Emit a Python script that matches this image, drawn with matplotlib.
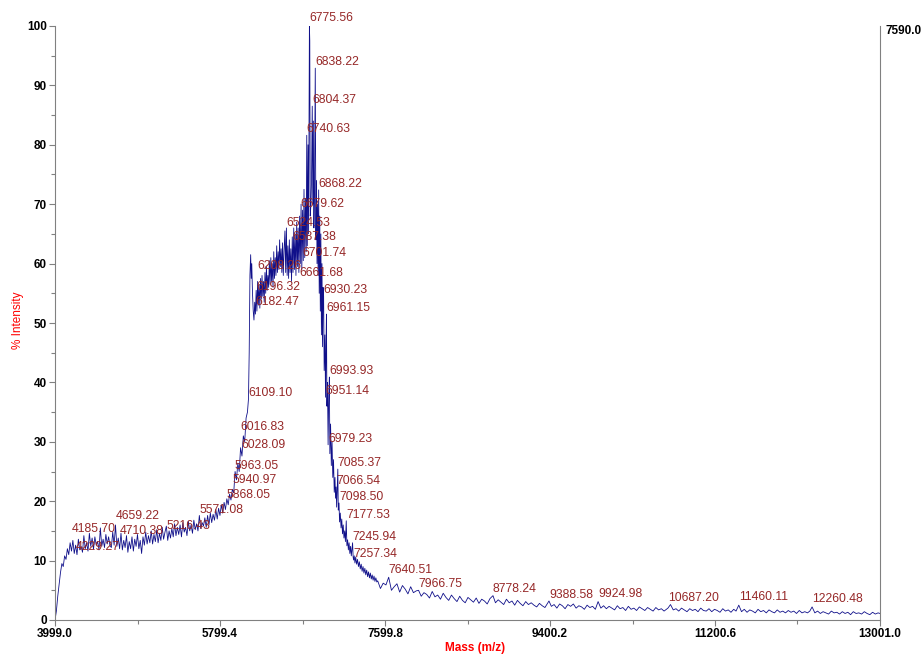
import matplotlib
matplotlib.use("Agg")
import matplotlib.pyplot as plt
import numpy as np

plt.rcParams['font.family'] = ['Liberation Sans', 'DejaVu Sans']

# ---- spectrum data (mass, % intensity) ----
mass_rise = [3999, 4014, 4029, 4044, 4059, 4074, 4089, 4104, 4119, 4134, 4149, 4164, 4179, 4194,
             4209, 4224, 4239, 4254, 4269, 4284, 4299, 4314, 4329, 4344, 4359, 4374, 4389, 4404,
             4419, 4434, 4449, 4464, 4479, 4494, 4509, 4524, 4539, 4554, 4569, 4584, 4599]
int_rise = [0.0, 1.5, 4.0, 6.0, 8.0, 9.5, 9.0, 10.8, 10.2, 12.0, 11.0, 13.0, 11.6, 13.4,
            11.2, 12.6, 11.0, 13.6, 11.8, 12.4, 11.4, 14.2, 12.0, 13.0, 11.6, 14.6, 12.4, 13.8,
            11.9, 14.0, 12.6, 13.2, 11.8, 15.5, 12.4, 13.6, 12.2, 14.4, 12.8, 14.0, 12.5]

mass_plateau = [4614, 4629, 4644, 4659, 4674, 4689, 4704, 4719, 4734, 4749, 4764, 4779, 4794, 4809,
                4824, 4839, 4854, 4869, 4884, 4899, 4914, 4929, 4944, 4959, 4974, 4989, 5004, 5019,
                5034, 5049, 5064, 5079, 5094, 5109, 5124, 5139, 5154, 5169, 5184, 5199, 5214, 5229,
                5244, 5259, 5274, 5289, 5304, 5319, 5334, 5349, 5364, 5379, 5394, 5409, 5424, 5439,
                5454, 5469, 5484, 5499, 5514, 5529, 5544, 5559, 5574, 5589, 5604]
int_plateau = [12.2, 14.8, 12.6, 16.0, 12.4, 13.8, 12.0, 14.6, 11.8, 13.4, 12.2, 14.2, 11.4, 13.2,
               12.0, 14.0, 11.6, 13.6, 12.4, 14.4, 12.0, 13.4, 11.2, 14.0, 12.6, 14.8, 12.8, 14.2,
               13.0, 15.0, 12.8, 14.4, 13.2, 15.2, 13.0, 14.6, 13.4, 15.6, 13.6, 14.8, 15.8, 13.4,
               15.0, 13.8, 15.4, 14.0, 16.2, 14.2, 15.6, 14.4, 16.0, 14.0, 16.4, 14.8, 15.6, 14.2,
               16.6, 15.0, 16.0, 14.6, 16.8, 15.2, 16.2, 15.0, 17.6, 15.4, 16.4]

mass_climb = [5619, 5634, 5649, 5664, 5679, 5694, 5709, 5724, 5739, 5754, 5769, 5784, 5799, 5814,
              5829, 5844, 5859, 5874, 5889, 5904, 5919, 5934, 5949, 5964, 5979, 5994, 6009, 6024,
              6039, 6054, 6069, 6084, 6099, 6110, 6118]
int_climb = [15.8, 17.2, 15.6, 17.6, 16.0, 18.0, 16.4, 17.8, 16.8, 18.6, 17.0, 18.8, 17.6, 19.4,
             18.0, 19.8, 18.6, 20.4, 19.4, 21.2, 20.2, 22.0, 21.4, 25.0, 23.6, 26.4, 25.0, 29.0,
             27.6, 31.0, 30.0, 34.0, 35.0, 37.2, 45.0]

mass_shoulder = [6126, 6134, 6140, 6146, 6154, 6162, 6170, 6178, 6186, 6194, 6202, 6210, 6218, 6226,
                 6234, 6242, 6250, 6258, 6266, 6274, 6282, 6290, 6298, 6306, 6314, 6322, 6330, 6338,
                 6346, 6354, 6362, 6370, 6378, 6386, 6394, 6402, 6410, 6418, 6426, 6434, 6442, 6450,
                 6458, 6466, 6474, 6482, 6490, 6498, 6508, 6516]
int_shoulder = [58.0, 61.5, 57.5, 60.0, 55.0, 52.0, 50.5, 53.5, 51.5, 55.5, 52.0, 57.0, 53.0, 56.5,
                52.5, 57.5, 54.0, 58.0, 54.5, 57.0, 53.5, 58.5, 55.0, 59.5, 55.5, 58.0, 56.0, 60.5,
                56.5, 61.0, 57.0, 60.0, 56.0, 62.0, 57.5, 61.0, 58.0, 63.0, 58.5, 62.0, 59.0, 64.0,
                59.5, 62.5, 58.5, 63.5, 58.0, 62.0, 65.5, 58.5]

mass_peak = [6524, 6532, 6540, 6548, 6556, 6564, 6572, 6580, 6588, 6596, 6604, 6612, 6620, 6628,
             6636, 6644, 6652, 6660, 6668, 6676, 6684, 6692, 6700, 6708, 6716, 6724, 6732, 6740,
             6746, 6752, 6760, 6766, 6775, 6779, 6784, 6792, 6798, 6806, 6812, 6818, 6824, 6830,
             6839, 6846, 6852, 6858, 6864, 6870, 6876, 6882, 6888, 6894, 6900, 6906, 6912, 6918,
             6924, 6930, 6936, 6944, 6951, 6956, 6961, 6966, 6972, 6979, 6986, 6993, 6998, 7006,
             7014, 7022, 7030, 7038, 7046, 7054, 7060, 7066, 7072, 7078, 7085, 7090, 7098, 7104,
             7112, 7120, 7128, 7136, 7144, 7152, 7160, 7168, 7177, 7184, 7192, 7200, 7208, 7216,
             7224, 7232, 7240, 7246, 7252, 7257, 7264, 7272, 7280, 7290, 7300, 7310, 7320, 7330,
             7340, 7350, 7360, 7370, 7380, 7390, 7400, 7410, 7420, 7430, 7440, 7450, 7460, 7470,
             7480, 7490, 7500, 7510]
int_peak = [66.0, 58.0, 63.0, 57.5, 64.0, 58.5, 62.5, 57.0, 64.5, 58.5, 66.0, 59.0, 65.0, 58.0,
            67.0, 59.5, 66.0, 58.5, 68.0, 60.0, 70.0, 59.0, 69.0, 60.5, 72.5, 61.0, 71.0, 62.0,
            81.6, 63.0, 80.0, 65.0, 100.0, 97.5, 68.0, 70.0, 74.0, 86.5, 70.0, 84.0, 66.0, 72.0,
            92.9, 64.0, 74.0, 60.0, 70.0, 58.0, 72.4, 55.0, 68.0, 52.0, 65.0, 48.0, 60.0, 46.0,
            56.0, 54.5, 42.0, 48.0, 37.5, 46.0, 51.5, 36.0, 40.0, 29.5, 38.0, 40.9, 28.0, 33.0,
            26.0, 30.0, 24.0, 27.0, 21.5, 24.0, 20.5, 22.4, 19.0, 22.0, 25.4, 18.5, 19.7, 16.5,
            18.0, 15.5, 17.0, 14.5, 16.0, 13.8, 15.0, 13.2, 16.7, 12.5, 13.5, 11.8, 13.0, 11.2,
            12.4, 10.8, 12.0, 13.0, 10.6, 10.1, 10.8, 9.6, 10.6, 9.4, 10.2, 9.0, 9.8, 8.6,
            9.4, 8.2, 9.0, 7.9, 8.7, 7.6, 8.4, 7.3, 8.1, 7.1, 7.9, 6.9, 7.6, 6.7,
            7.4, 6.5, 7.1, 6.4]

mass_tail = [7520, 7550, 7580, 7610, 7640, 7670, 7700, 7730, 7760, 7790, 7820, 7850, 7880, 7910,
             7940, 7966, 7995, 8025, 8055, 8085, 8115, 8145, 8175, 8205, 8235, 8265, 8295, 8325,
             8355, 8385, 8415, 8445, 8475, 8505, 8535, 8565, 8595, 8625, 8655, 8685, 8715, 8745,
             8778, 8805, 8835, 8865, 8895, 8925, 8955, 8985, 9015, 9045, 9075, 9105, 9135, 9165,
             9195, 9225, 9255, 9285, 9315, 9345, 9389, 9415, 9445, 9475, 9505, 9535, 9565, 9595,
             9625, 9655, 9685, 9715, 9745, 9775, 9805, 9835, 9865, 9895, 9925, 9955, 9985, 10015,
             10045, 10075, 10105, 10135, 10165, 10195, 10225, 10255, 10285, 10315, 10345, 10375,
             10405, 10435, 10465, 10495, 10525, 10555, 10585, 10615, 10645, 10687, 10715, 10745,
             10775, 10805, 10835, 10865, 10895, 10925, 10955, 10985, 11015, 11045, 11075, 11105,
             11135, 11165, 11195, 11225, 11255, 11285, 11315, 11345, 11375, 11405, 11430, 11460,
             11490, 11520, 11550, 11580, 11610, 11640, 11670, 11700, 11730, 11760, 11790, 11820,
             11850, 11880, 11910, 11940, 11970, 12000, 12030, 12060, 12090, 12120, 12150, 12180,
             12210, 12235, 12260, 12290, 12320, 12350, 12380, 12410, 12440, 12470, 12500, 12530,
             12560, 12590, 12620, 12650, 12680, 12710, 12740, 12770, 12800, 12830, 12860, 12890,
             12920, 12950, 12980, 13001]
int_tail = [6.6, 5.3, 6.2, 5.9, 7.2, 5.0, 5.6, 6.1, 4.7, 5.8, 5.2, 4.4, 5.6, 4.6,
            4.9, 5.0, 4.0, 4.6, 4.3, 3.7, 4.8, 3.9, 4.2, 3.5, 4.5, 3.8, 3.3, 4.2,
            3.6, 3.1, 4.0, 3.3, 2.9, 3.8, 3.4, 3.0, 3.7, 2.8, 3.5, 3.2, 2.7, 3.6,
            4.1, 2.9, 3.4, 3.0, 2.6, 3.5, 2.9, 3.2, 2.5, 3.3, 2.8, 2.4, 3.1, 2.6,
            2.9, 2.5, 2.2, 2.8, 2.4, 2.1, 3.2, 2.3, 2.6, 2.0, 2.7, 2.4, 1.9, 2.6,
            2.3, 2.7, 2.0, 2.4, 2.2, 1.8, 2.5, 2.1, 2.3, 1.8, 3.1, 2.0, 2.4, 1.9,
            2.3, 2.0, 1.7, 2.4, 1.9, 2.1, 1.6, 2.3, 1.8, 2.0, 1.6, 2.2,
            1.9, 1.6, 2.1, 1.8, 1.5, 2.1, 1.7, 1.9, 1.5, 2.0, 2.6, 1.7,
            1.9, 1.5, 2.0, 1.7, 1.4, 1.9, 1.6, 1.8, 1.4, 2.0, 1.6, 1.5,
            1.9, 1.4, 1.8, 1.6, 1.3, 1.9, 1.5, 1.7, 1.3, 1.8, 1.5, 2.5,
            1.4, 1.8, 1.3, 1.7, 1.5, 1.2, 1.8, 1.4, 1.6, 1.2, 1.7, 1.4,
            1.2, 1.7, 1.3, 1.5, 1.2, 1.6, 1.3, 1.5, 1.1, 1.6, 1.2, 1.4,
            1.2, 1.5, 2.2, 1.2, 1.5, 1.1, 1.4, 1.2, 1.0, 1.5, 1.2, 1.3,
            1.0, 1.4, 1.1, 1.3, 0.9, 1.4, 1.1, 1.2, 1.0, 1.4, 1.1, 0.9,
            1.3, 1.0, 1.2, 1.1]

# ---- peak annotations (mass, label height in %) ----
label_mass = [6775.56, 6838.22, 6804.37, 6740.63, 6868.22, 6679.62, 6524.53, 6587.38, 6701.74,
              6661.68, 6930.23, 6961.15, 6208.26, 6196.32, 6182.47, 6993.93, 6951.14, 6109.10,
              6016.83, 6028.09, 6979.23, 5963.05, 7085.37, 7066.54, 5940.97, 5868.05, 7098.50,
              5571.08, 7177.53, 5216.43, 4659.22, 4710.38, 4185.70, 4229.27, 7245.94, 7257.34,
              7640.51, 7966.75, 8778.24, 9388.58, 9924.98, 10687.20, 11460.11, 12260.48]
label_y = [100.3, 92.9, 86.5, 81.6, 72.4, 69.0, 65.8, 63.5, 60.8,
           57.4, 54.5, 51.5, 58.6, 55.1, 52.5, 40.9, 37.5, 37.2,
           31.5, 28.5, 29.5, 24.9, 25.4, 22.4, 22.6, 20.0, 19.7,
           17.5, 16.7, 14.8, 16.5, 14.0, 14.3, 11.3, 13.0, 10.1,
           7.4, 5.0, 4.2, 3.2, 3.4, 2.7, 2.9, 2.5]

x_ticks = [3999.0, 5799.4, 7599.8, 9400.2, 11200.6, 13001.0]
y_ticks = [0, 10, 20, 30, 40, 50, 60, 70, 80, 90, 100]
max_counts_label = "7590.0"

mass = np.concatenate([mass_rise, mass_plateau, mass_climb, mass_shoulder, mass_peak, mass_tail])
inten = np.concatenate([int_rise, int_plateau, int_climb, int_shoulder, int_peak, int_tail])

fig = plt.figure(figsize=(9.23, 6.55), dpi=100)
ax = fig.add_axes([55 / 923, 35 / 655, 825 / 923, 594 / 655])

ax.plot(mass, inten, color='#10108a', linewidth=0.6, antialiased=True)

ax.set_xlim(x_ticks[0], x_ticks[-1])
ax.set_ylim(0, 100)

ax.set_xticks(x_ticks)
ax.set_xticklabels([f"{v:.1f}" for v in x_ticks])
ax.set_xticks([(a + b) / 2 for a, b in zip(x_ticks[:-1], x_ticks[1:])], minor=True)
ax.set_yticks(y_ticks)
ax.set_yticklabels([str(v) for v in y_ticks])
ax.set_yticks([v + 5 for v in y_ticks[:-1]], minor=True)

for lbl in ax.get_xticklabels() + ax.get_yticklabels():
    lbl.set_fontweight('bold')
    lbl.set_fontsize(8.5)
ax.tick_params(axis='both', which='major', length=4, color='#808080', width=0.8, pad=2)
ax.tick_params(axis='both', which='minor', length=3, color='#808080', width=0.8)

for side in ['left', 'bottom', 'right']:
    ax.spines[side].set_color('#808080')
    ax.spines[side].set_linewidth(0.8)
ax.spines['top'].set_visible(False)

for m, y in zip(label_mass, label_y):
    ax.text(m, y, f"{m:.2f}", color='#962828', fontsize=8.8, ha='left', va='bottom',
            clip_on=False)

fig.text(18 / 923, 1 - 320 / 655, "% Intensity", color='#ff0000', fontsize=8.5,
         rotation=90, ha='center', va='center')
fig.text(475 / 923, 1 - 648 / 655, "Mass (m/z)", color='#ff0000', fontsize=8.5,
         fontweight='bold', ha='center', va='center')
fig.text(886 / 923, 1 - 31 / 655, max_counts_label, color='black', fontsize=8.5,
         fontweight='bold', ha='left', va='center')

fig.savefig("out.png", dpi=100, facecolor='white')
